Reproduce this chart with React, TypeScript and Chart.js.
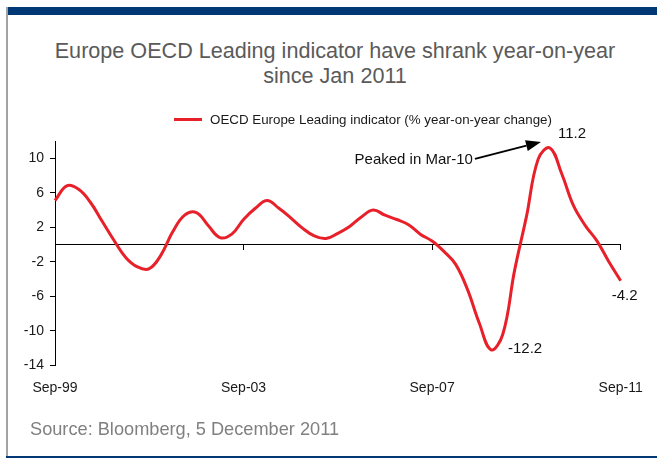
import React, { useEffect, useRef } from "react";
import { Chart, registerables } from "chart.js";

Chart.register(...registerables);

// Quarter-end observations, Sep-1999 .. Sep-2011
const quarters = [
  "Sep-99", "Dec-99",
  "Mar-00", "Jun-00", "Sep-00", "Dec-00",
  "Mar-01", "Jun-01", "Sep-01", "Dec-01",
  "Mar-02", "Jun-02", "Sep-02", "Dec-02",
  "Mar-03", "Jun-03", "Sep-03", "Dec-03",
  "Mar-04", "Jun-04", "Sep-04", "Dec-04",
  "Mar-05", "Jun-05", "Sep-05", "Dec-05",
  "Mar-06", "Jun-06", "Sep-06", "Dec-06",
  "Mar-07", "Jun-07", "Sep-07", "Dec-07",
  "Mar-08", "Jun-08", "Sep-08", "Dec-08",
  "Mar-09", "Jun-09", "Sep-09", "Dec-09",
  "Mar-10", "Jun-10", "Sep-10", "Dec-10",
  "Mar-11", "Jun-11", "Sep-11",
];

// OECD Europe leading indicator, % year-on-year change
const indicator = [
  5.1, 6.8,
  6.4, 4.9, 2.7, 0.5,
  -1.5, -2.6, -2.8, -1.2,
  1.5, 3.4, 3.7, 2.2,
  0.8, 1.2, 2.9, 4.2,
  5.1, 4.2, 3.1, 1.9,
  1.0, 0.7, 1.3, 2.1,
  3.2, 4.0, 3.4, 2.9,
  2.3, 1.2, 0.4, -0.8,
  -2.3, -5.2, -9.1, -12.2,
  -10.4, -3.0, 3.2, 9.9,
  11.2, 8.2, 4.5, 2.2,
  0.4, -2.0, -4.2,
];

const xTickLabels = ["Sep-99", "Sep-03", "Sep-07", "Sep-11"];
const yTickValues = [-14, -10, -6, -2, 2, 6, 10];

const seriesName = "OECD Europe Leading indicator (% year-on-year change)";
const titleLines = ["Europe OECD Leading indicator have shrank year-on-year", "since Jan 2011"];
const sourceNote = "Source: Bloomberg, 5 December 2011";

const peakLabel = "Mar-10";
const troughLabel = "Dec-08";
const lastLabel = "Sep-11";

const RED = "#e8202a";
const NAVY = "#003876";
const FONT = '"Liberation Sans", Arial, Helvetica, sans-serif';

const keepLabelledTicks = (scale: any) => {
  scale.ticks = scale.ticks.filter((t: any) => xTickLabels.includes(quarters[t.value]));
};

// Value labels and the "peaked" call-out, positioned from the data through the scales
const valueNotes = {
  id: "valueNotes",
  afterDatasetsDraw(chart: any) {
    const { ctx } = chart;
    const x = chart.scales.x;
    const y = chart.scales.y;
    const at = (label: string) => {
      const i = quarters.indexOf(label);
      return { px: x.getPixelForValue(i), py: y.getPixelForValue(indicator[i]), v: indicator[i] };
    };
    const peak = at(peakLabel);
    const low = at(troughLabel);
    const last = at(lastLabel);

    ctx.save();
    ctx.font = `15px ${FONT}`;
    ctx.fillStyle = "#111";
    ctx.textBaseline = "middle";

    ctx.textAlign = "left";
    ctx.fillText(peak.v.toFixed(1), peak.px + 8, peak.py - 14);
    ctx.fillText(low.v.toFixed(1), low.px + 17, low.py - 1);
    ctx.textAlign = "center";
    ctx.fillText(last.v.toFixed(1), last.px + 4, last.py + 15);

    ctx.textAlign = "right";
    ctx.fillText(`Peaked in ${peakLabel}`, peak.px - 77, peak.py + 12);

    // arrow pointing at the peak
    const tx = peak.px - 75, ty = peak.py + 11;
    const hx = peak.px - 9, hy = peak.py - 6;
    const ang = Math.atan2(hy - ty, hx - tx);
    const headLen = 15, headHalf = 5.5;
    const bx = hx - headLen * Math.cos(ang);
    const by = hy - headLen * Math.sin(ang);
    ctx.strokeStyle = "#000";
    ctx.lineWidth = 2;
    ctx.beginPath();
    ctx.moveTo(tx, ty);
    ctx.lineTo(bx, by);
    ctx.stroke();
    ctx.fillStyle = "#000";
    ctx.beginPath();
    ctx.moveTo(hx, hy);
    ctx.lineTo(bx + headHalf * Math.sin(ang), by - headHalf * Math.cos(ang));
    ctx.lineTo(bx - headHalf * Math.sin(ang), by + headHalf * Math.cos(ang));
    ctx.closePath();
    ctx.fill();
    ctx.restore();
  },
};

function IndicatorChart() {
  const ref = useRef<HTMLCanvasElement | null>(null);

  useEffect(() => {
    if (!ref.current) return;
    const tickFont = { family: FONT, size: 14 };
    const chart = new Chart(ref.current, {
      type: "line",
      data: {
        labels: quarters,
        datasets: [
          {
            label: seriesName,
            data: indicator,
            borderColor: RED,
            borderWidth: 3,
            pointRadius: 0,
            fill: false,
            tension: 0.4,
            xAxisID: "x",
            yAxisID: "y",
          },
        ],
      },
      options: {
        animation: false,
        responsive: true,
        maintainAspectRatio: false,
        events: [],
        layout: { padding: { top: 41, right: 33.5, bottom: 0, left: 0 } },
        plugins: {
          legend: { display: false },
          title: { display: false },
          tooltip: { enabled: false },
        },
        scales: {
          x: {
            type: "category",
            position: "bottom",
            grid: { display: false, drawTicks: false },
            border: { display: false },
            ticks: { autoSkip: false, maxRotation: 0, padding: 14.3, font: tickFont, color: "#1a1a1a" },
            afterBuildTicks: keepLabelledTicks,
            afterFit: (s: any) => {
              s.height = 54.7;
            },
          },
          x0: {
            type: "category",
            position: { y: 0 },
            grid: { drawOnChartArea: false, drawTicks: true, tickLength: 5, color: "#000", lineWidth: 1 },
            border: { display: true, color: "#000", width: 1 },
            ticks: { display: false },
            afterBuildTicks: keepLabelledTicks,
          },
          y: {
            type: "linear",
            position: "left",
            min: -14,
            max: 12,
            grid: { drawOnChartArea: false, drawTicks: true, tickLength: 5, color: "#000", lineWidth: 1 },
            border: { display: true, color: "#000", width: 1 },
            ticks: { padding: 6, font: tickFont, color: "#1a1a1a" },
            afterBuildTicks: (s: any) => {
              s.ticks = yTickValues.map((v) => ({ value: v }));
            },
            afterFit: (s: any) => {
              s.width = 47;
            },
          },
        },
      } as any,
      plugins: [valueNotes],
    });
    return () => chart.destroy();
  }, []);

  return (
    <div style={{ position: "absolute", left: 8, top: 100, width: 649, height: 320 }}>
      <canvas ref={ref} />
    </div>
  );
}

export default function App() {
  return (
    <div
      style={{
        position: "absolute",
        left: 0,
        top: 0,
        width: 657,
        height: 458,
        overflow: "hidden",
        background: "#fff",
        fontFamily: FONT,
      }}
    >
      <div style={{ position: "absolute", left: 6, top: 7, width: 651, height: 8, background: NAVY }} />
      <div style={{ position: "absolute", left: 6, top: 7, width: 2, height: 449, background: "#a3a3a3" }} />
      <div style={{ position: "absolute", left: 6, top: 456, width: 651, height: 2, background: NAVY }} />

      <div
        style={{
          position: "absolute",
          left: 13,
          top: 37.5,
          width: 644,
          textAlign: "center",
          fontSize: 21.6,
          lineHeight: "25px",
          color: "#5a5a5a",
        }}
      >
        {titleLines.map((t) => (
          <div key={t}>{t}</div>
        ))}
      </div>

      <IndicatorChart />

      <div
        style={{
          position: "absolute",
          left: 174,
          top: 111,
          height: 16,
          display: "flex",
          alignItems: "center",
          whiteSpace: "nowrap",
          fontSize: 13.35,
          color: "#1a1a1a",
        }}
      >
        <span style={{ display: "inline-block", width: 28, height: 3, background: RED, marginRight: 8 }} />
        <span>{seriesName}</span>
      </div>

      <div
        style={{
          position: "absolute",
          left: 30,
          top: 418,
          lineHeight: "22px",
          fontSize: 18.2,
          color: "#808080",
          whiteSpace: "nowrap",
        }}
      >
        {sourceNote}
      </div>
    </div>
  );
}
